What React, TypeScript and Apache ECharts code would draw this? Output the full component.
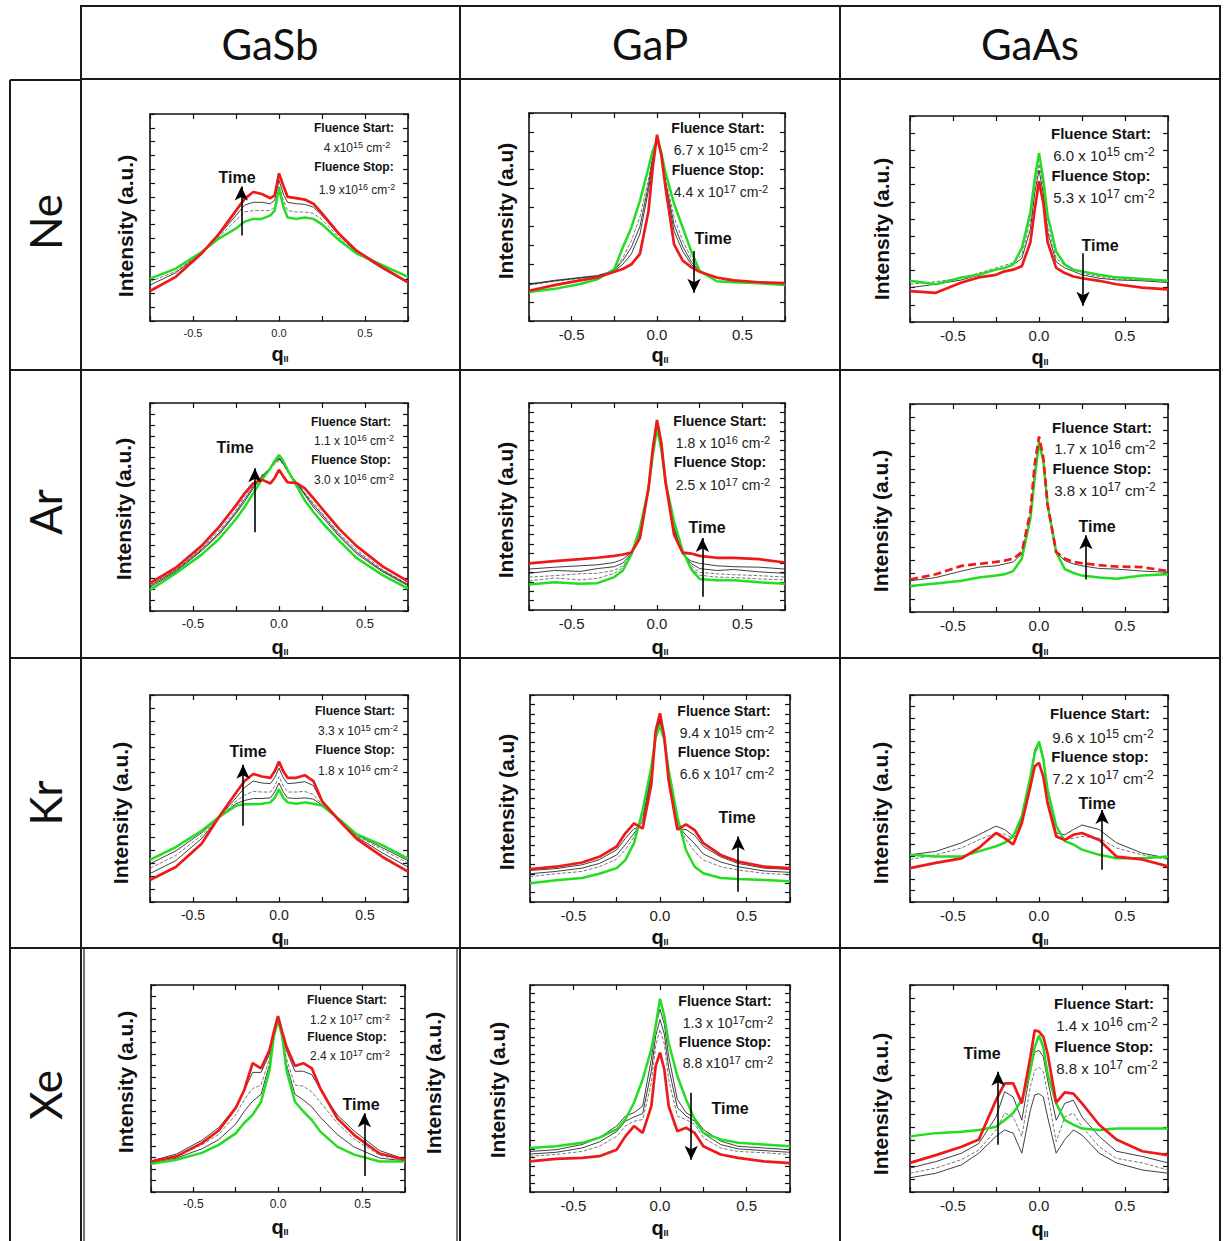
import React, { useEffect, useRef } from "react";
import * as echarts from "echarts";

// ---------- DATA ----------
const XS = [-0.75, -0.6, -0.45, -0.35, -0.25, -0.2, -0.15, -0.1, -0.05, -0.025, 0, 0.025, 0.05, 0.1, 0.15, 0.2, 0.25, 0.35, 0.45, 0.6, 0.75];

const COLUMNS = ["GaSb", "GaP", "GaAs"];
const ROWS = ["Ne", "Ar", "Kr", "Xe"];
const X_TICK_LABELS = [-0.5, 0, 0.5];

// Ne
const NE_GASB_GREEN = [3.07, 3.8, 5.0, 5.97, 6.7, 7.2, 7.4, 7.4, 7.65, 8.0, 9.6, 8.3, 7.5, 7.4, 7.5, 7.4, 7.0, 5.85, 4.9, 4.05, 3.2];
const NE_GASB_RED = [2.17, 3.2, 4.9, 6.3, 8.0, 8.85, 9.35, 9.2, 8.9, 9.1, 10.7, 9.8, 9.0, 8.9, 8.8, 8.5, 7.8, 6.3, 5.1, 3.9, 2.8];
const NE_GASB_GREY = [
  [2.6, 3.5, 4.9, 6.2, 7.65, 8.4, 8.6, 8.6, 8.5, 8.75, 10.2, 9.2, 8.6, 8.5, 8.45, 8.25, 7.65, 6.2, 5.0, 3.8, 2.75],
  [2.85, 3.6, 4.95, 6.1, 7.3, 7.9, 8.0, 8.0, 8.0, 8.25, 9.8, 8.75, 8.0, 7.9, 7.9, 7.8, 7.35, 6.05, 4.95, 3.8, 2.75],
];
const NE_GAP_GREEN = [1.53, 1.7, 1.96, 2.2, 2.75, 3.9, 4.95, 6.35, 8.1, 9.0, 9.55, 8.9, 7.85, 6.2, 4.95, 3.7, 2.65, 2.1, 2.05, 2.0, 1.9];
const NE_GAP_RED = [1.6, 1.9, 2.15, 2.3, 2.6, 2.75, 3.0, 3.55, 5.8, 8.1, 9.85, 8.8, 7.05, 4.05, 3.2, 2.85, 2.6, 2.3, 2.15, 2.05, 2.0];
const NE_GAP_GREY = [
  [1.96, 2.15, 2.3, 2.4, 2.65, 3.0, 3.55, 4.6, 6.9, 8.45, 9.7, 8.7, 7.2, 4.75, 3.7, 3.0, 2.6, 2.3, 2.15, 2.05, 1.96],
  [1.9, 2.1, 2.25, 2.35, 2.7, 3.35, 4.25, 5.5, 7.5, 8.7, 9.6, 8.8, 7.5, 5.5, 4.25, 3.35, 2.65, 2.25, 2.1, 2.05, 1.95],
  [1.93, 2.12, 2.28, 2.38, 2.68, 3.2, 3.9, 5.0, 7.2, 8.6, 9.65, 8.75, 7.35, 5.1, 3.95, 3.15, 2.62, 2.28, 2.12, 2.05, 1.95],
];
const NE_GAAS_GREEN = [2.4, 2.2, 2.6, 2.75, 3.05, 3.15, 3.35, 4.3, 6.4, 8.3, 9.85, 8.3, 6.2, 4.1, 3.35, 3.05, 2.95, 2.75, 2.6, 2.5, 2.4];
const NE_GAAS_RED = [1.8, 1.7, 2.3, 2.6, 2.75, 2.95, 3.05, 3.25, 4.65, 6.55, 8.2, 6.95, 4.65, 3.15, 2.85, 2.65, 2.55, 2.4, 2.2, 2.0, 1.9];
const NE_GAAS_GREY = [
  [2.0, 2.2, 2.45, 2.75, 3.05, 3.15, 3.35, 3.7, 5.4, 7.5, 8.85, 7.5, 5.25, 3.5, 3.15, 2.95, 2.75, 2.55, 2.45, 2.4, 2.3],
  [2.2, 2.35, 2.55, 2.85, 3.15, 3.3, 3.45, 3.9, 5.9, 8.0, 9.2, 7.9, 5.6, 3.7, 3.3, 3.05, 2.85, 2.65, 2.5, 2.45, 2.35],
];
// Ar
const AR_GASB_GREEN = [1.9, 3.45, 5.15, 6.55, 8.4, 9.5, 10.75, 12.0, 13.05, 13.7, 14.25, 13.7, 12.9, 11.5, 10.1, 9.05, 8.1, 6.4, 4.85, 3.3, 2.05];
const AR_GASB_RED = [2.55, 3.95, 5.95, 7.65, 9.65, 10.75, 11.65, 12.0, 11.65, 12.15, 12.9, 12.3, 11.75, 11.7, 11.2, 10.3, 9.35, 7.5, 5.95, 4.1, 2.7];
const AR_GASB_GREY = [
  [2.15, 3.6, 5.5, 6.95, 8.9, 10.0, 11.2, 12.2, 13.1, 13.6, 14.0, 13.5, 12.8, 11.75, 10.6, 9.5, 8.6, 6.8, 5.25, 3.6, 2.3],
  [2.4, 3.8, 5.7, 7.3, 9.25, 10.45, 11.5, 12.4, 13.05, 13.45, 13.75, 13.4, 12.7, 11.75, 10.8, 9.9, 8.95, 7.1, 5.6, 3.8, 2.45],
  [2.3, 3.7, 5.6, 7.1, 9.05, 10.2, 11.35, 12.3, 13.1, 13.55, 13.9, 13.45, 12.75, 11.75, 10.7, 9.7, 8.8, 6.95, 5.4, 3.7, 2.4],
];
const AR_GAP_GREEN = [2.7, 2.95, 2.8, 2.85, 3.5, 4.2, 5.9, 8.7, 12.9, 16.4, 19.3, 17.1, 13.6, 9.4, 6.3, 4.35, 3.3, 3.15, 3.15, 2.95, 2.8];
const AR_GAP_RED = [4.95, 5.2, 5.4, 5.55, 5.75, 5.9, 6.1, 7.65, 12.9, 17.1, 20.2, 17.8, 13.6, 8.0, 6.1, 6.0, 5.75, 5.55, 5.55, 5.4, 5.05];
const AR_GAP_GREY = [
  [4.35, 4.55, 4.7, 4.8, 5.05, 5.4, 6.1, 8.2, 12.9, 16.7, 19.85, 17.4, 13.6, 8.55, 5.9, 5.2, 4.95, 4.7, 4.6, 4.55, 4.35],
  [3.5, 3.65, 3.85, 3.9, 4.2, 4.7, 5.9, 8.35, 12.9, 16.55, 19.7, 17.25, 13.6, 8.9, 6.1, 4.7, 4.0, 3.85, 3.75, 3.65, 3.5],
  [3.9, 4.2, 4.1, 4.4, 4.6, 5.0, 6.0, 8.5, 12.9, 16.6, 19.75, 17.3, 13.6, 8.7, 6.0, 4.95, 4.4, 4.2, 4.3, 4.05, 3.9],
  [3.1, 3.4, 3.2, 3.35, 3.9, 4.5, 5.9, 8.6, 12.9, 16.5, 19.5, 17.2, 13.6, 9.1, 6.2, 4.5, 3.7, 3.5, 3.45, 3.3, 3.2],
];
const AR_GAAS_GREEN = [2.0, 2.2, 2.4, 2.65, 2.8, 2.9, 3.15, 4.1, 7.2, 10.3, 13.05, 11.6, 8.25, 4.6, 3.3, 3.0, 2.8, 2.65, 2.55, 2.8, 2.9];
const AR_GAAS_RED = [2.5, 2.9, 3.55, 3.7, 3.85, 3.95, 4.1, 4.6, 7.7, 11.35, 13.5, 11.9, 8.25, 4.6, 4.1, 3.85, 3.75, 3.6, 3.5, 3.45, 3.15];
const AR_GAAS_GREY = [
  [2.4, 2.65, 3.15, 3.45, 3.55, 3.7, 3.85, 4.45, 7.45, 10.85, 13.15, 11.75, 8.25, 4.6, 3.95, 3.7, 3.55, 3.35, 3.3, 3.15, 3.05],
];
// Kr
const KR_GASB_GREEN = [3.25, 4.25, 5.5, 6.55, 7.45, 7.55, 7.55, 7.6, 7.7, 8.05, 8.7, 8.05, 7.7, 7.6, 7.7, 7.6, 7.45, 6.4, 5.25, 4.4, 3.35];
const KR_GASB_RED = [1.7, 2.7, 4.5, 6.55, 8.45, 9.35, 9.9, 9.7, 9.6, 10.1, 10.85, 10.1, 9.6, 9.6, 9.8, 9.35, 7.8, 6.3, 4.9, 3.5, 2.35];
const KR_GASB_GREY = [
  [2.2, 3.2, 4.9, 6.55, 8.05, 8.85, 9.35, 9.2, 9.15, 9.6, 10.35, 9.6, 9.15, 9.2, 9.3, 9.0, 7.7, 6.35, 5.05, 3.8, 2.7],
  [2.6, 3.6, 5.15, 6.55, 7.8, 8.25, 8.55, 8.5, 8.5, 8.95, 9.7, 8.95, 8.5, 8.5, 8.55, 8.3, 7.55, 6.35, 5.15, 4.05, 3.0],
  [2.95, 3.95, 5.35, 6.55, 7.6, 7.85, 8.0, 8.0, 8.05, 8.5, 9.2, 8.5, 8.05, 8.0, 8.05, 7.95, 7.5, 6.4, 5.2, 4.2, 3.2],
];
const KR_GAP_GREEN = [2.0, 2.3, 2.55, 3.0, 3.6, 4.45, 6.25, 9.75, 14.35, 17.5, 18.75, 17.2, 14.0, 9.05, 5.5, 3.75, 3.05, 2.55, 2.45, 2.35, 2.2];
const KR_GAP_RED = [3.5, 3.75, 4.2, 4.8, 5.9, 7.3, 8.35, 7.8, 12.5, 18.2, 20.05, 17.5, 12.9, 7.7, 8.25, 7.65, 6.25, 5.0, 4.3, 3.75, 3.6];
const KR_GAP_GREY = [
  [3.35, 3.55, 3.95, 4.5, 5.55, 6.75, 7.8, 8.0, 13.5, 17.85, 19.45, 17.35, 13.25, 7.8, 7.7, 7.1, 5.9, 4.8, 4.1, 3.6, 3.45],
  [2.7, 3.0, 3.25, 3.75, 4.55, 5.55, 6.95, 9.05, 14.0, 17.7, 19.1, 17.25, 13.6, 8.5, 6.6, 5.35, 4.45, 3.75, 3.4, 3.05, 2.9],
  [3.0, 3.25, 3.6, 4.1, 5.0, 6.1, 7.3, 8.6, 13.8, 17.8, 19.3, 17.3, 13.4, 8.2, 7.1, 6.2, 5.1, 4.25, 3.75, 3.3, 3.15],
];
const KR_GAAS_GREEN = [4.1, 3.95, 3.95, 4.4, 4.85, 5.15, 5.7, 7.45, 10.9, 12.95, 13.95, 12.4, 9.75, 6.6, 5.3, 5.0, 4.55, 4.1, 3.8, 3.8, 3.95];
const KR_GAAS_RED = [2.95, 3.4, 3.8, 4.7, 6.0, 5.55, 5.0, 6.85, 10.05, 11.8, 12.1, 10.9, 8.6, 5.7, 5.4, 5.85, 6.0, 5.4, 3.95, 3.7, 3.1];
const KR_GAAS_GREY = [
  [4.1, 4.4, 5.15, 5.85, 6.6, 6.3, 5.7, 7.15, 10.65, 13.25, 13.95, 12.65, 9.75, 6.0, 5.85, 6.3, 6.7, 6.3, 5.15, 4.25, 3.8],
  [3.7, 4.1, 4.7, 5.4, 6.0, 5.9, 5.55, 7.0, 10.35, 12.8, 13.65, 12.4, 9.5, 5.85, 5.4, 5.55, 5.7, 5.55, 4.7, 4.1, 3.7],
];
// Xe
const XE_GASB_GREEN = [2.45, 2.8, 3.4, 4.1, 5.1, 6.0, 6.7, 7.85, 10.6, 13.5, 14.95, 13.5, 10.6, 7.85, 7.0, 6.25, 5.25, 3.95, 3.25, 2.65, 2.65];
const XE_GASB_RED = [2.65, 3.1, 4.25, 5.35, 7.3, 8.85, 11.2, 10.75, 12.35, 13.9, 15.3, 13.9, 12.65, 10.95, 11.2, 10.75, 9.0, 6.4, 4.95, 3.35, 2.8];
const XE_GASB_GREY = [
  [2.7, 3.3, 4.5, 5.6, 7.4, 8.8, 10.4, 10.4, 12.0, 13.8, 15.1, 13.8, 12.3, 10.5, 10.5, 10.2, 8.9, 6.7, 5.3, 3.6, 2.85],
  [2.6, 3.1, 4.1, 5.0, 6.7, 8.0, 9.0, 9.3, 11.6, 13.7, 15.0, 13.7, 11.6, 9.3, 9.2, 8.7, 7.8, 6.0, 4.6, 3.2, 2.75],
  [2.5, 2.95, 3.75, 4.55, 5.9, 7.0, 7.9, 8.5, 11.1, 13.6, 14.95, 13.6, 11.1, 8.5, 8.0, 7.4, 6.5, 5.0, 3.9, 2.95, 2.7],
];
const XE_GAP_GREEN = [5.1, 5.3, 5.7, 6.3, 7.25, 8.4, 10.35, 13.05, 16.55, 19.25, 22.4, 20.4, 17.3, 13.45, 10.75, 8.4, 6.85, 6.1, 5.7, 5.5, 5.3];
const XE_GAP_RED = [3.55, 3.85, 3.95, 4.15, 4.9, 6.45, 7.65, 6.85, 9.95, 14.6, 16.15, 14.2, 9.95, 7.05, 7.45, 6.85, 5.3, 4.35, 3.95, 3.55, 3.35];
const XE_GAP_GREY = [
  [4.7, 4.9, 5.5, 6.3, 7.65, 8.8, 9.2, 9.95, 15.4, 19.25, 21.2, 19.45, 15.75, 10.75, 9.2, 8.6, 7.25, 5.9, 5.3, 5.1, 4.9],
  [4.15, 4.35, 4.7, 5.3, 6.45, 7.65, 8.2, 8.4, 12.65, 16.95, 18.85, 17.15, 13.05, 8.8, 8.4, 7.85, 6.3, 5.1, 4.7, 4.55, 4.35],
  [4.4, 4.6, 5.1, 5.8, 7.0, 8.2, 8.7, 9.1, 14.0, 18.1, 20.0, 18.3, 14.4, 9.8, 8.8, 8.2, 6.8, 5.5, 5.0, 4.8, 4.6],
];
const XE_GAAS_GREEN = [4.3, 4.55, 4.65, 4.8, 5.05, 5.55, 6.1, 7.1, 9.4, 11.2, 12.1, 11.2, 9.15, 6.85, 5.55, 5.2, 4.9, 4.8, 4.9, 4.9, 4.9];
const XE_GAAS_RED = [2.25, 2.85, 3.5, 4.05, 7.1, 8.4, 8.4, 6.85, 10.45, 12.5, 12.4, 12.0, 10.7, 6.9, 7.7, 7.6, 6.85, 5.2, 4.05, 3.15, 2.85];
const XE_GAAS_GREY = [
  [1.85, 2.35, 3.0, 3.75, 5.8, 7.75, 7.35, 5.55, 9.4, 10.8, 10.95, 10.45, 8.65, 5.55, 6.85, 7.1, 5.8, 4.3, 3.15, 2.75, 2.25],
  [1.45, 1.85, 2.5, 3.25, 4.8, 6.1, 5.8, 4.3, 8.15, 9.4, 9.65, 9.3, 7.6, 3.9, 5.8, 6.1, 5.05, 3.5, 2.6, 2.25, 1.7],
  [1.1, 1.45, 2.1, 3.0, 4.3, 4.8, 4.55, 3.0, 6.35, 7.5, 7.6, 7.35, 5.8, 3.0, 4.05, 4.8, 4.4, 3.0, 2.25, 1.7, 1.45],
];

// y axis extents (tick count) per panel, row-major
const Y_MAX = [15, 11, 12, 19, 22, 16, 16, 22, 18, 18, 24, 16];
// "Time" arrows: [q, from, to] in data units
const ARROWS = [
  [-0.219, 6.2, 9.75], [0.217, 3.7, 1.5], [0.256, 4.0, 0.95],
  [-0.14, 7.2, 13.05], [0.266, 1.4, 7.65], [0.273, 2.5, 5.9],
  [-0.209, 5.9, 10.6], [0.451, 1.1, 6.95], [0.367, 2.8, 8.0],
  [0.51, 1.4, 6.85], [0.18, 11.5, 3.75], [-0.238, 3.65, 9.3],
];
const FLUENCE_START = [
  "4 x10^15 cm^-2", "6.7 x 10^15 cm^-2", "6.0 x 10^15 cm^-2",
  "1.1 x 10^16 cm^-2", "1.8 x 10^16 cm^-2", "1.7 x 10^16 cm^-2",
  "3.3 x 10^15 cm^-2", "9.4 x 10^15 cm^-2", "9.6 x 10^15 cm^-2",
  "1.2 x 10^17 cm^-2", "1.3 x 10^17cm^-2", "1.4 x 10^16 cm^-2",
];
const FLUENCE_STOP = [
  "1.9 x10^16 cm^-2", "4.4 x 10^17 cm^-2", "5.3 x 10^17 cm^-2",
  "3.0 x 10^16 cm^-2", "2.5 x 10^17 cm^-2", "3.8 x 10^17 cm^-2",
  "1.8 x 10^16 cm^-2", "6.6 x 10^17 cm^-2", "7.2 x 10^17 cm^-2",
  "2.4 x 10^17 cm^-2", "8.8 x10^17 cm^-2", "8.8 x 10^17 cm^-2",
];
const STOP_LABELS = [
  "Fluence Stop:", "Fluence Stop:", "Fluence Stop:",
  "Fluence Stop:", "Fluence Stop:", "Fluence Stop:",
  "Fluence Stop:", "Fluence Stop:", "Fluence stop:",
  "Fluence Stop:", "Fluence Stop:", "Fluence Stop:",
];
const Y_LABELS = ["Intensity (a.u.)", "Intensity (a.u)", "Intensity (a.u.)"];

const GREENS = [NE_GASB_GREEN, NE_GAP_GREEN, NE_GAAS_GREEN, AR_GASB_GREEN, AR_GAP_GREEN, AR_GAAS_GREEN, KR_GASB_GREEN, KR_GAP_GREEN, KR_GAAS_GREEN, XE_GASB_GREEN, XE_GAP_GREEN, XE_GAAS_GREEN];
const REDS = [NE_GASB_RED, NE_GAP_RED, NE_GAAS_RED, AR_GASB_RED, AR_GAP_RED, AR_GAAS_RED, KR_GASB_RED, KR_GAP_RED, KR_GAAS_RED, XE_GASB_RED, XE_GAP_RED, XE_GAAS_RED];
const GREYS = [NE_GASB_GREY, NE_GAP_GREY, NE_GAAS_GREY, AR_GASB_GREY, AR_GAP_GREY, AR_GAAS_GREY, KR_GASB_GREY, KR_GAP_GREY, KR_GAAS_GREY, XE_GASB_GREY, XE_GAP_GREY, XE_GAAS_GREY];

// ---------- LAYOUT ----------
const BOXES = [
  [150, 114, 258, 207], [529, 113, 256, 208], [910, 116, 258, 206],
  [150, 403, 258, 208], [529, 403, 256, 207], [910, 404, 258, 208],
  [150, 695, 258, 207], [530, 695, 260, 207], [910, 695, 258, 207],
  [151, 985, 254, 207], [530, 985, 260, 207], [910, 985, 258, 207],
];
const YLABEL_POS = [
  [125, 226], [505, 211], [881, 229],
  [123, 509], [505, 510], [880, 521],
  [120, 813], [506, 802], [880, 813],
  [125, 1082], [497, 1090], [880, 1104],
];
const Q_POS = [
  [280, 354], [660, 355], [1040, 357],
  [280, 647], [660, 647], [1040, 647],
  [280, 937], [660, 937], [1040, 937],
  [280, 1227], [660, 1228], [1040, 1229],
];
const TIME_POS = [
  [237, 177], [713, 238], [1100, 245],
  [235, 447], [707, 527], [1097, 526],
  [248, 751], [737, 817], [1097, 803],
  [361, 1104], [730, 1108], [982, 1053],
];
const FL_POS = [
  [354, [128, 148, 167, 190]], [718, [128, 150, 170, 192]], [1101, [133, 155, 175, 197]],
  [351, [422, 441, 460, 480]], [720, [421, 443, 462, 485]], [1102, [427, 448, 468, 490]],
  [355, [711, 731, 750, 771]], [724, [711, 733, 752, 774]], [1100, [713, 737, 756, 778]],
  [347, [1000, 1020, 1037, 1056]], [725, [1001, 1023, 1042, 1063]], [1104, [1003, 1025, 1046, 1068]],
];
const TICK_FONT = [11, 15, 15, 13, 15, 15, 14, 15, 15, 12, 15, 15];
const FL_FONT = [12, 14, 15, 12, 14, 15, 12, 14, 15, 12, 14, 15];

const SANS = "Liberation Sans";

function toRich(s: string) {
  const parts = s.split(/\^(-?\d+)/);
  let out = "";
  parts.forEach((p, i) => {
    if (p === "") return;
    out += i % 2 === 1 ? `{s|${p}}` : `{n|${p}}`;
  });
  return out;
}

function buildOption() {
  const grid: any[] = [];
  const xAxis: any[] = [];
  const yAxis: any[] = [];
  const series: any[] = [];
  const graphic: any[] = [];

  // table lines
  const L = (x1: number, y1: number, x2: number, y2: number, w = 2) => ({
    type: "line", silent: true, z: 10,
    shape: { x1, y1, x2, y2 },
    style: { stroke: "#1a1a1a", lineWidth: w },
  });
  graphic.push(L(80, 6, 1221, 6));
  graphic.push(L(80, 79, 1221, 79));
  graphic.push(L(10, 80, 82, 80));
  [370, 658, 948].forEach((y) => graphic.push(L(10, y, 1221, y)));
  graphic.push(L(10, 80, 10, 1241));
  graphic.push(L(81, 6, 81, 1241));
  graphic.push(L(84, 948, 84, 1241, 1.2));
  graphic.push(L(460, 6, 460, 1241));
  graphic.push(L(457, 948, 457, 1241, 1.2));
  graphic.push(L(840, 6, 840, 1241));
  graphic.push(L(1220, 6, 1220, 1241));

  COLUMNS.forEach((c, i) => {
    graphic.push({
      type: "text", x: 270 + i * 380, y: 44, silent: true,
      style: { text: c, fontFamily: "Lato", fontSize: 42, fill: "#111", align: "center", verticalAlign: "middle" },
    });
  });
  const rowCenters = [222, 512, 803, 1095];
  ROWS.forEach((r, i) => {
    graphic.push({
      type: "text", x: 45, y: rowCenters[i], rotation: Math.PI / 2, silent: true,
      style: { text: r, fontFamily: "Lato", fontSize: 44, fill: "#111", align: "center", verticalAlign: "middle" },
    });
  });

  for (let i = 0; i < 12; i++) {
    const [l, t, w, h] = BOXES[i];
    const col = i % 3;
    grid.push({ left: l, top: t, width: w, height: h, containLabel: false });
    const tf = TICK_FONT[i];
    const axLine = { show: true, onZero: false, lineStyle: { color: "#111", width: 1.6 } };
    const tick = { show: true, inside: true, length: 5, lineStyle: { color: "#111", width: 1.2 } };
    xAxis.push({
      gridIndex: i, type: "value", min: -0.75, max: 0.75, interval: 0.25, position: "bottom",
      axisLine: axLine, axisTick: tick, splitLine: { show: false },
      axisLabel: {
        fontSize: tf, color: "#222", fontFamily: SANS, margin: 6,
        formatter: (v: number) => (X_TICK_LABELS.some((q) => Math.abs(q - v) < 1e-6) ? v.toFixed(1) : ""),
      },
    });
    xAxis.push({
      gridIndex: i, type: "value", min: -0.75, max: 0.75, interval: 0.25, position: "top",
      axisLine: axLine, axisTick: tick, splitLine: { show: false }, axisLabel: { show: false },
    });
    yAxis.push({
      gridIndex: i, type: "value", min: 0, max: Y_MAX[i], interval: 1, position: "left",
      axisLine: axLine, axisTick: tick, splitLine: { show: false }, axisLabel: { show: false },
    });
    yAxis.push({
      gridIndex: i, type: "value", min: 0, max: Y_MAX[i], interval: 1, position: "right",
      axisLine: axLine, axisTick: tick, splitLine: { show: false }, axisLabel: { show: false },
    });

    const xa = 2 * i, ya = 2 * i;
    GREYS[i].forEach((g, k) => {
      series.push({
        type: "line", xAxisIndex: xa, yAxisIndex: ya, symbol: "none", silent: true, z: 2,
        data: XS.map((x, j) => [x, g[j]]),
        lineStyle: { color: k % 2 ? "#6a6a6a" : "#2a2a2a", width: 0.9, type: k % 2 ? "dashed" : "solid" },
      });
    });
    series.push({
      type: "line", xAxisIndex: xa, yAxisIndex: ya, symbol: "none", silent: true, z: 3,
      data: XS.map((x, j) => [x, GREENS[i][j]]),
      lineStyle: { color: "#22dd22", width: 2.5 },
    });
    const [ax, a1, a2] = ARROWS[i];
    series.push({
      type: "line", xAxisIndex: xa, yAxisIndex: ya, symbol: "none", silent: true, z: 4,
      data: XS.map((x, j) => [x, REDS[i][j]]),
      lineStyle: { color: "#ee1a1a", width: 2.7, type: i === 5 ? [8, 4] : "solid" },
      markLine: {
        silent: true, symbol: ["none", "arrow"], symbolSize: [10, 14], z: 6,
        label: { show: false }, emphasis: { disabled: true },
        lineStyle: { color: "#000", width: 1.6, type: "solid" },
        data: [[{ coord: [ax, a1] }, { coord: [ax, a2] }]],
      },
    });

    // texts
    graphic.push({
      type: "text", x: YLABEL_POS[i][0], y: YLABEL_POS[i][1], rotation: Math.PI / 2, silent: true,
      style: { text: Y_LABELS[col], fontFamily: SANS, fontWeight: "bold", fontSize: 21, fill: "#111", align: "center", verticalAlign: "middle" },
    });
    graphic.push({
      type: "text", x: Q_POS[i][0], y: Q_POS[i][1], silent: true,
      style: {
        text: "{q|q}{s|II}", align: "center", verticalAlign: "middle",
        rich: {
          q: { fontFamily: SANS, fontWeight: "bold", fontSize: 20, fill: "#111", lineHeight: 18 },
          s: { fontFamily: SANS, fontWeight: "bold", fontSize: 9, fill: "#111", verticalAlign: "bottom", lineHeight: 14 },
        },
      },
    });
    graphic.push({
      type: "text", x: TIME_POS[i][0], y: TIME_POS[i][1], silent: true,
      style: { text: "Time", fontFamily: SANS, fontWeight: "bold", fontSize: 16, fill: "#111", align: "center", verticalAlign: "middle" },
    });
    const [fx, fys] = FL_POS[i] as [number, number[]];
    const ff = FL_FONT[i];
    const rich = {
      n: { fontFamily: SANS, fontSize: ff, fill: "#222", lineHeight: ff + 4 },
      s: { fontFamily: SANS, fontSize: Math.round(ff * 0.78), fill: "#222", verticalAlign: "top", lineHeight: ff + 4 },
    };
    const labels = ["Fluence Start:", FLUENCE_START[i], STOP_LABELS[i], FLUENCE_STOP[i]];
    labels.forEach((s, k) => {
      if (k % 2 === 0) {
        graphic.push({
          type: "text", x: fx, y: fys[k], silent: true,
          style: { text: s, fontFamily: SANS, fontWeight: "bold", fontSize: ff, fill: "#111", align: "center", verticalAlign: "middle" },
        });
      } else {
        graphic.push({
          type: "text", x: fx + 3, y: fys[k], silent: true,
          style: { text: toRich(s), rich, align: "center", verticalAlign: "middle" },
        });
      }
    });
  }

  // stray y label at right of GaSb/Xe cell
  graphic.push({
    type: "text", x: 433, y: 1083, rotation: Math.PI / 2, silent: true,
    style: { text: "Intensity (a.u.)", fontFamily: SANS, fontWeight: "bold", fontSize: 21, fill: "#111", align: "center", verticalAlign: "middle" },
  });

  return {
    animation: false,
    backgroundColor: "#ffffff",
    textStyle: { fontFamily: SANS },
    grid, xAxis, yAxis, series, graphic,
  };
}

export default function App() {
  const ref = useRef<HTMLDivElement>(null);
  useEffect(() => {
    document.body.style.margin = "0";
    if (!ref.current) return;
    const chart = echarts.init(ref.current, undefined, { renderer: "svg" });
    chart.setOption(buildOption() as any);
    return () => chart.dispose();
  }, []);
  return <div ref={ref} style={{ position: "absolute", left: 0, top: 0, width: 1230, height: 1241, background: "#fff" }} />;
}
